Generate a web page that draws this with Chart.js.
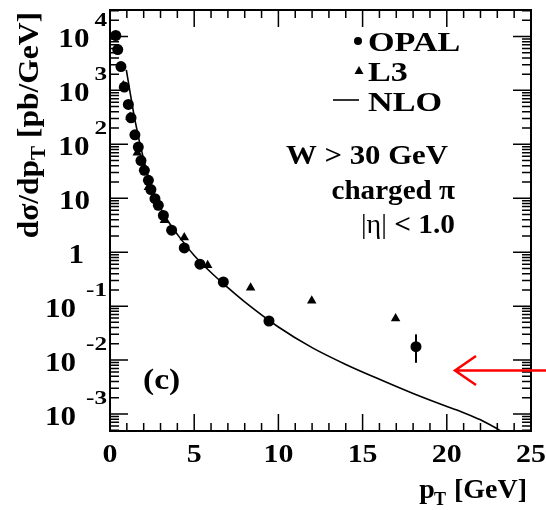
<!DOCTYPE html>
<html>
<head>
<meta charset="utf-8">
<script src="https://cdn.jsdelivr.net/npm/chart.js@4.4.1/dist/chart.umd.min.js"></script>
<style>
  html, body { margin: 0; padding: 0; background: #fff; }
</style>
</head>
<body>
<canvas id="chart" width="546" height="510"></canvas>
<script>
// === Data ===
const opalPt  = [0.34, 0.46, 0.65, 0.85, 1.09, 1.25, 1.48, 1.68, 1.84, 2.04, 2.28, 2.43, 2.67, 2.87, 3.17, 3.66, 4.41, 5.34, 6.73, 9.44, 18.17];
const opalVal = [10400, 5700, 2760, 1150, 550, 310, 150, 89, 50, 33, 21.5, 14.5, 9.8, 7.4, 4.8, 2.56, 1.2, 0.6, 0.28, 0.053, 0.0177];
const opalErrLo = [null, null, null, null, null, null, null, null, null, null, null, null, null, null, null, null, null, null, null, null, 0.0089];
const opalErrHi = [null, null, null, null, null, null, null, null, null, null, null, null, null, null, null, null, null, null, null, null, 0.030];

const l3Pt  = [0.79, 1.19, 1.62, 2.28, 3.23, 4.41, 5.8, 8.35, 11.98, 16.96];
const l3Val = [1230, 320, 70, 16, 3.9, 1.87, 0.57, 0.22, 0.126, 0.059];

const nloPt  = [0.97, 1.2, 1.5, 2.0, 2.5, 3.0, 3.5, 4.0, 5.0, 6.0, 7.0, 8.0, 10, 12, 14, 16, 18, 20, 21, 22, 23, 23.5];
const nloVal = [2400, 890, 263, 52.5, 15.1, 6.6, 3.55, 2.14, 0.87, 0.42, 0.22, 0.12, 0.041, 0.017, 0.0083, 0.0044, 0.0024, 0.00138, 0.00106, 0.00078, 0.00053, 0.00043];

const xMajorTicks = [0, 5, 10, 15, 20, 25];
const yDecades = [-3, -2, -1, 0, 1, 2, 3, 4];
const xRange = [0, 25];
const yRange = [Math.pow(10, -3.315), Math.pow(10, 4.49)];

const FONT = '"Liberation Serif", "Times New Roman", serif';

function toXY(xs, ys) {
  return xs.map((x, i) => ({ x, y: ys[i] }));
}

// draws text with a horizontal stretch factor, returns drawn width
function txt(ctx, s, x, y, size, align, sx, weight) {
  sx = sx || 1;
  ctx.save();
  ctx.font = `${weight || 'bold'} ${size}px ${FONT}`;
  ctx.textBaseline = 'alphabetic';
  const w = ctx.measureText(s).width * sx;
  let x0 = x;
  if (align === 'right') x0 = x - w;
  else if (align === 'center') x0 = x - w / 2;
  ctx.translate(x0, y);
  ctx.scale(sx, 1);
  ctx.textAlign = 'left';
  ctx.fillText(s, 0, 0);
  ctx.restore();
  return w;
}

function width(ctx, s, size, sx) {
  ctx.font = `bold ${size}px ${FONT}`;
  return ctx.measureText(s).width * (sx || 1);
}

// === Frame, ticks, labels, legend, notes ===
const framePlugin = {
  id: 'frame',
  afterDraw(chart) {
    const ctx = chart.ctx;
    const a = chart.chartArea;
    const xs = chart.scales.x, ys = chart.scales.y;
    ctx.save();
    ctx.fillStyle = '#000';
    ctx.strokeStyle = '#000';

    // error bars
    ctx.lineWidth = 2;
    opalPt.forEach((p, i) => {
      if (opalErrLo[i] == null) return;
      const px = xs.getPixelForValue(p);
      ctx.beginPath();
      ctx.moveTo(px, ys.getPixelForValue(opalErrLo[i]));
      ctx.lineTo(px, ys.getPixelForValue(opalErrHi[i]));
      ctx.stroke();
    });

    // box
    ctx.lineWidth = 2;
    ctx.strokeRect(a.left, a.top, a.right - a.left, a.bottom - a.top);

    // x ticks (bottom + top, inward)
    ctx.lineWidth = 1.5;
    for (let v = xRange[0]; v <= xRange[1]; v++) {
      const px = xs.getPixelForValue(v);
      const len = v % 5 === 0 ? 17 : 8;
      ctx.beginPath();
      ctx.moveTo(px, a.bottom); ctx.lineTo(px, a.bottom - len);
      ctx.moveTo(px, a.top); ctx.lineTo(px, a.top + len);
      ctx.stroke();
    }
    // y ticks (left + right, inward)
    for (let d = -4; d <= 4; d++) {
      for (let m = 1; m <= 9; m++) {
        const v = m * Math.pow(10, d);
        if (v < yRange[0] || v > yRange[1]) continue;
        const py = ys.getPixelForValue(v);
        const len = m === 1 ? 18 : 9;
        ctx.beginPath();
        ctx.moveTo(a.left, py); ctx.lineTo(a.left + len, py);
        ctx.moveTo(a.right, py); ctx.lineTo(a.right - len, py);
        ctx.stroke();
      }
    }

    // x tick labels
    xMajorTicks.forEach(v => {
      txt(ctx, String(v), xs.getPixelForValue(v), 462, 26, 'center', 1.15);
    });

    // y tick labels with superscript exponents
    yDecades.forEach(e => {
      const py = ys.getPixelForValue(Math.pow(10, e));
      if (e === 0) {
        txt(ctx, '1', 84, py + 11, 27, 'right', 1.15);
      } else if (e === 1) {
        txt(ctx, '10', 90, py + 11, 27, 'right', 1.15);
      } else {
        const ew = txt(ctx, e < 0 ? '-' + (-e) : String(e), 107, py - 10, 18, 'right', 1.4);
        const gap = e < 0 ? 10 : 5;
        txt(ctx, '10', 107 - ew - gap, py + 11, 27, 'right', 1.15);
      }
    });

    // x title: p_T [GeV]
    {
      const wb = txt(ctx, '[GeV]', 527, 498, 28, 'right');
      const wt = txt(ctx, 'T', 527 - wb - 8, 505, 18, 'right');
      txt(ctx, 'p', 527 - wb - 8 - wt + 1, 498, 28, 'right');
    }

    // y title: dσ/dp_T [pb/GeV], rotated
    {
      ctx.save();
      ctx.translate(38, 12);
      ctx.rotate(-Math.PI / 2);
      const sx = 1.05;
      const w1 = width(ctx, 'dσ/dp', 30, sx);
      const w2 = width(ctx, 'T', 20, sx);
      const w3 = width(ctx, ' [pb/GeV]', 30, sx);
      const x0 = -(w1 + w2 + w3);
      txt(ctx, 'dσ/dp', x0, 0, 30, 'left', sx);
      txt(ctx, 'T', x0 + w1, 7, 20, 'left', sx);
      txt(ctx, ' [pb/GeV]', x0 + w1 + w2, 0, 30, 'left', sx);
      ctx.restore();
    }

    // legend
    ctx.beginPath();
    ctx.arc(358, 41, 4, 0, Math.PI * 2);
    ctx.fill();
    ctx.beginPath();
    ctx.moveTo(359, 66); ctx.lineTo(363.5, 74); ctx.lineTo(354.5, 74);
    ctx.closePath();
    ctx.fill();
    ctx.lineWidth = 1.6;
    ctx.beginPath();
    ctx.moveTo(333, 100); ctx.lineTo(359, 100);
    ctx.stroke();
    txt(ctx, 'OPAL', 368, 51, 28, 'left', 1.22);
    txt(ctx, 'L3', 368, 81, 28, 'left', 1.22);
    txt(ctx, 'NLO', 368, 111, 28, 'left', 1.22);

    // notes
    txt(ctx, 'W > 30 GeV', 448, 164, 28, 'right', 1.1);
    txt(ctx, 'charged π', 455, 199, 28, 'right', 1.04);
    {
      // |η| in a plain symbol face, "< 1.0" bold
      const wb = txt(ctx, ' < 1.0', 455, 233, 28, 'right', 1.05);
      txt(ctx, '|η|', 455 - wb, 233, 28, 'right', 1.0, 'normal');
    }
    txt(ctx, '(c)', 143, 389, 30, 'left', 1.12);

    // red arrow
    ctx.strokeStyle = '#ff0000';
    ctx.lineWidth = 2.5;
    ctx.beginPath();
    ctx.moveTo(546, 370.5); ctx.lineTo(455, 370.5);
    ctx.moveTo(476, 356); ctx.lineTo(455, 370.5); ctx.lineTo(476, 385);
    ctx.stroke();

    ctx.restore();
  }
};

const chart = new Chart(document.getElementById('chart'), {
  type: 'scatter',
  data: {
    datasets: [
      {
        label: 'NLO',
        type: 'line',
        data: toXY(nloPt, nloVal),
        borderColor: '#000',
        borderWidth: 1.6,
        pointRadius: 0,
        fill: false,
        cubicInterpolationMode: 'monotone'
      },
      {
        label: 'OPAL',
        data: toXY(opalPt, opalVal),
        pointStyle: 'circle',
        pointRadius: 5.5,
        backgroundColor: '#000',
        borderColor: '#000',
        borderWidth: 0
      },
      {
        label: 'L3',
        data: toXY(l3Pt, l3Val),
        pointStyle: 'triangle',
        pointRadius: 5.5,
        backgroundColor: '#000',
        borderColor: '#000',
        borderWidth: 0
      }
    ]
  },
  options: {
    responsive: false,
    animation: false,
    layout: { padding: { left: 110, right: 15, top: 10, bottom: 79 } },
    plugins: { legend: { display: false }, tooltip: { enabled: false } },
    scales: {
      x: { type: 'linear', min: xRange[0], max: xRange[1], display: false },
      y: { type: 'logarithmic', min: yRange[0], max: yRange[1], display: false }
    }
  },
  plugins: [framePlugin]
});
</script>
</body>
</html>
